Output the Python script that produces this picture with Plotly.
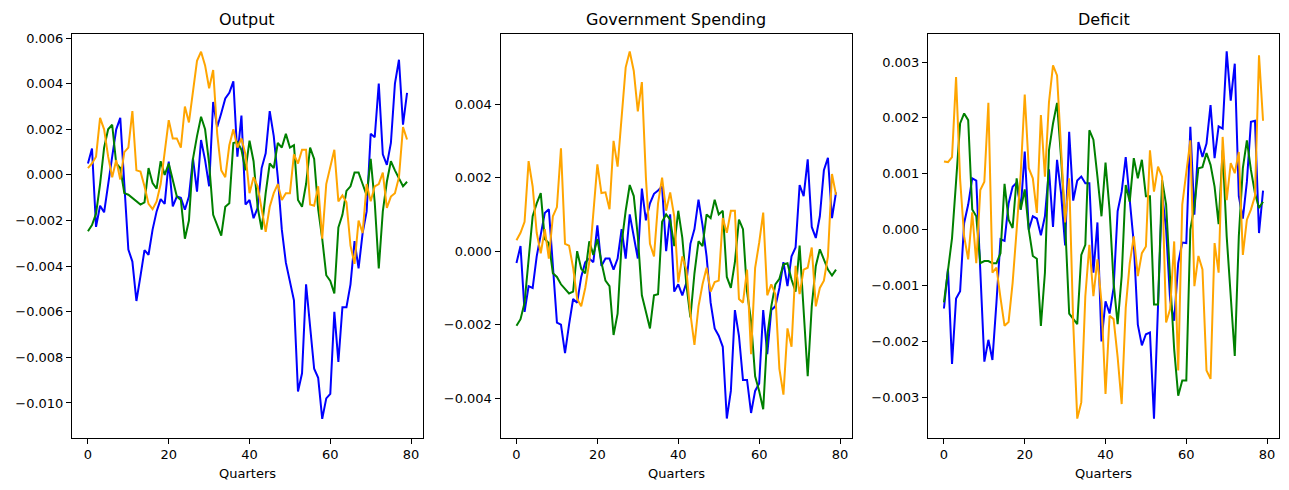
import plotly.graph_objects as go

# Impulse responses, 80 quarters
quarters = list(range(80))

output_blue = [
    0.0005, 0.00116, -0.00228, -0.00135, -0.00164, -0.0003, 0.0008, 0.002, 0.0025, -0.0004,
    -0.00327, -0.0038, -0.00553, -0.00444, -0.0033, -0.0035, -0.0024, -0.0016, -0.00106, -0.00127,
    0.00058, -0.00138, -0.00095, -0.001, -0.00153, -0.00095, 0.00073, -0.00073, 0.00153, 0.00065,
    -0.0005, 0.0032, 0.0021, 0.0027, 0.00335, 0.0036, 0.0041, 0.0008, 0.0026, -0.0013,
    -0.0011, -0.0019, -0.00145, 0.0003, 0.00095, 0.0028, 0.0017, -0.0001, -0.0024, -0.00385,
    -0.00465, -0.0055, -0.0095, -0.0087, -0.0048, -0.0065, -0.0085, -0.0089, -0.0107, -0.0098,
    -0.0096, -0.006, -0.0082, -0.0058, -0.0058, -0.0048, -0.0029, -0.0041, -0.00255, -0.0016,
    0.0018, 0.00165, 0.004, 0.0009, 0.00044, 0.0014, 0.004, 0.00505, 0.0022, 0.0036,
]
output_green = [
    -0.00247, -0.0022, -0.0017, -0.0004, 0.0012, 0.002, 0.0022, 0.0005, 0.0003, -0.0008,
    -0.00087, -0.001, -0.00116, -0.0013, -0.0012, 0.0003, -0.00036, -0.0006, 0.0006, 0.0,
    0.0005, -0.0003, -0.00095, -0.0011, -0.0028, -0.002, 0.0007, 0.0017, 0.00255, 0.002,
    0.0005, -0.00175, -0.0022, -0.00266, -0.0014, -0.00124, 0.0014, 0.00145, 0.0011, 0.0002,
    0.0015, 0.0006, -0.0014, -0.0024, -0.0008, 0.0005, 0.0003, 0.0014, 0.0012, 0.0018,
    0.0012, 0.0013, -0.0011, -0.0014, -0.0004, 0.0012, 0.0007, -0.0015, -0.0028, -0.0044,
    -0.00465, -0.0052, -0.0023, -0.00175, -0.0007, -0.0005, 0.0001, 0.0001, -0.0004, -0.0009,
    0.0007, -0.0012, -0.0041, -0.0016, -0.0003, 0.0006, 0.0002, -0.00015, -0.0005, -0.0003,
]
output_orange = [
    0.0003, 0.0005, 0.0008, 0.0025, 0.002, 0.0008, -0.0001, 0.00065, -0.0002, 0.001,
    0.0012, 0.0028, 0.0002, 0.00015, -0.0005, -0.00127, -0.0015, -0.00116, -0.0004, 0.0009,
    0.0024, 0.0016, 0.0016, 0.0012, 0.003, 0.0023, 0.0037, 0.005, 0.0054, 0.0048,
    0.0038, 0.0046, 0.0018, 0.0002, -0.0001, 0.0013, 0.002, 0.0012, 0.0016, 0.0009,
    -0.0008, -0.0001, -0.0005, -0.0016, -0.0025, -0.0014, -0.0008, -0.0004, -0.0011, -0.0008,
    -0.0008, 0.0009, 0.0005, 0.0011, 0.0011, -0.0013, -0.00135, -0.0005, -0.0028, -0.0004,
    0.0003, 0.0011, -0.00116, -0.0009, -0.0012, -0.0031, -0.0039, -0.002, -0.00255, -0.0004,
    -0.00116, -0.0005, -0.0004, 0.0001, -0.00145, -0.00095, -0.0008, -0.0001, 0.0021, 0.00155,
]

gov_blue = [
    -0.00032, 0.00014, -0.00165, -0.00095, -0.001, -0.00014, 0.00045, 0.00104, 0.00114, -0.0003,
    -0.00194, -0.002, -0.00277, -0.002, -0.0013, -0.0014, -0.0007, -0.0003, -0.0002, -0.0003,
    0.0007, -0.0004, -0.0002, -0.0002, -0.0005, -0.0002, 0.0006, -0.0002, 0.001, 0.0004,
    -0.0002, 0.0017, 0.00084, 0.0013, 0.00156, 0.00165, 0.00176, 0.0, 0.001, -0.0011,
    -0.0009, -0.0012, -0.00086, 0.0002, 0.0006, 0.0014, 0.0007, -0.00014, -0.0014, -0.0021,
    -0.0023, -0.0026, -0.00455, -0.0038, -0.0016, -0.0023, -0.0035, -0.0035, -0.0044, -0.0038,
    -0.0036, -0.0016, -0.0028, -0.0016, -0.0015, -0.001, -0.0003, -0.00095, -0.00014, 0.0001,
    0.0018, 0.0015, 0.0025, 0.00066, 0.00036, 0.00095, 0.0022, 0.00254, 0.0009, 0.0016,
]
gov_green = [
    -0.00203, -0.00185, -0.0014, -0.0002, 0.00095, 0.0013, 0.00158, 0.00033, 0.00022, -0.0006,
    -0.0007, -0.0009, -0.00104, -0.00115, -0.0011, 0.0, -0.00048, -0.0006, 0.00027, -0.0001,
    0.00033, -0.0003, -0.0008, -0.00095, -0.00228, -0.0017, 0.00022, 0.0011, 0.0018, 0.0015,
    0.0004, -0.0012, -0.00165, -0.0021, -0.0012, -0.00117, 0.0008, 0.001, 0.00086, 0.00014,
    0.0011, 0.00036, -0.0009, -0.0018, -0.0006, 0.00027, 0.00014, 0.001, 0.0009, 0.0014,
    0.001, 0.0011, -0.0007, -0.001, -0.0003, 0.00086, 0.0006, -0.0011, -0.0019, -0.0034,
    -0.0038, -0.0043, -0.0023, -0.0015, -0.0009, -0.00075, -0.00036, -0.00033, -0.00077, -0.0011,
    0.00015, -0.0017, -0.0034, -0.0015, -0.0004, 0.00005, -0.00023, -0.0005, -0.00066, -0.0005,
]
gov_orange = [
    0.0003, 0.0005, 0.0008, 0.00245, 0.00176, 0.0005, -0.00006, 0.0006, -0.0002, 0.00095,
    0.0012, 0.0028, 0.0002, 0.00015, -0.00045, -0.0013, -0.0015, -0.001, -0.0003, 0.001,
    0.00236, 0.00158, 0.0016, 0.00114, 0.003, 0.0023, 0.0037, 0.005, 0.00543, 0.0049,
    0.0038, 0.0046, 0.002, 0.0002, -0.00014, 0.0013, 0.002, 0.0011, 0.0016, 0.00095,
    -0.00085, -0.00014, -0.0005, -0.0017, -0.00255, -0.0015, -0.0009, -0.00045, -0.0011, -0.00084,
    -0.0008, 0.0009, 0.0005, 0.0011, 0.0011, -0.0013, -0.0014, -0.0005, -0.0028, -0.00045,
    0.00023, 0.00105, -0.0012, -0.0009, -0.00117, -0.0032, -0.0039, -0.0021, -0.0026, -0.0004,
    -0.00117, -0.0005, -0.00045, 0.0001, -0.0015, -0.001, -0.0008, -0.00014, 0.0021, 0.00153,
]

deficit_blue = [
    -0.00141, -0.0007, -0.0024, -0.00123, -0.0011, 0.00012, 0.00045, 0.00092, 0.00088, -0.0008,
    -0.00236, -0.00197, -0.00233, -0.0013, -0.00017, -0.0002, 0.00047, 0.00077, 0.00084, 0.00036,
    0.0014, 0.0, 0.00024, 0.0002, -0.0001, 0.00024, 0.00108, 0.00005, 0.00125, 0.00065,
    -0.00028, 0.00175, 0.00052, 0.00088, 0.00095, 0.00083, 0.00083, -0.00077, 0.00013, -0.002,
    -0.00128, -0.0015, -0.00104, 0.00033, 0.00068, 0.0013, 0.0005, -0.00024, -0.0017, -0.00207,
    -0.00187, -0.00184, -0.00338, -0.0013, 0.00066, 0.0, -0.00126, -0.00163, -0.0006, -0.00023,
    -0.00024, 0.00184, 0.00027, 0.00157, 0.0013, 0.00154, 0.00223, 0.00128, 0.00185, 0.00181,
    0.00319, 0.00231, 0.00297, 0.0006, 0.0002, 0.00086, 0.00193, 0.00195, -0.00006, 0.0007,
]
deficit_green = [
    -0.0013, -0.00077, -0.00015, 0.00086, 0.0019, 0.00208, 0.00196, 0.00036, 0.00024, -0.0006,
    -0.00056, -0.00056, -0.0006, -0.0006, -0.00042, 0.00082, 0.00018, 0.00003, 0.00092, 0.00036,
    0.00072, 0.0, -0.00047, -0.00052, -0.00172, -0.00077, 0.00142, 0.0019, 0.00227, 0.00128,
    0.00012, -0.0015, -0.00159, -0.00169, -0.00045, -0.00027, 0.00178, 0.00161, 0.00095, 0.00024,
    0.0012, 0.00036, -0.00095, -0.00169, -0.00083, 0.0008, 0.0005, 0.00128, 0.00092, 0.00125,
    0.0006, 0.0006, -0.00134, -0.00134, 0.00089, 0.00045, -0.00089, -0.00214, -0.00297, -0.0027,
    -0.0027, 0.0, 0.00042, 0.0011, 0.00112, 0.00137, 0.00116, 0.00077, 0.0001, 0.00142,
    -0.00012, -0.00119, -0.00226, -0.00012, 0.0011, 0.0016, 0.00107, 0.00065, 0.00039, 0.0005,
]
deficit_orange = [
    0.00122, 0.00121, 0.0013, 0.00273, 0.0009, -0.00012, -0.00053, 0.00031, -0.0006, 0.00071,
    0.00086, 0.00227, -0.00077, -0.00068, -0.00122, -0.00172, -0.00165, -0.00095, 0.0, 0.001,
    0.00242, 0.0011, 0.00092, 0.0003, 0.00205, 0.00095, 0.00228, 0.00294, 0.00276, 0.00154,
    0.00013, 0.00092, -0.00166, -0.00338, -0.00309, -0.00119, -0.00027, -0.00119, -0.00053, -0.0013,
    -0.00294, -0.00154, -0.0016, -0.00228, -0.00312, -0.0014, -0.0006, -0.00012, -0.00083, -0.00042,
    -0.0003, 0.00142, 0.00068, 0.00113, 0.00095, -0.00166, -0.00142, -0.00021, -0.00252, 0.00045,
    0.00107, 0.0016, -0.00101, -0.00047, -0.00071, -0.00252, -0.00267, -0.00024, -0.00077, 0.00166,
    0.00053, 0.00119, 0.00101, 0.00139, -0.00045, 0.00018, 0.00036, 0.0006, 0.00312, 0.00195,
]

titles = ["Output", "Government Spending", "Deficit"]
panels = [
    (output_blue, output_green, output_orange),
    (gov_blue, gov_green, gov_orange),
    (deficit_blue, deficit_green, deficit_orange),
]
colors = ["blue", "green", "orange"]
y_ranges = [[-0.01152, 0.0062], [-0.00507, 0.00592], [-0.00372, 0.00351]]
y_ticks = [
    [-0.010, -0.008, -0.006, -0.004, -0.002, 0.0, 0.002, 0.004, 0.006],
    [-0.004, -0.002, 0.0, 0.002, 0.004],
    [-0.003, -0.002, -0.001, 0.0, 0.001, 0.002, 0.003],
]

W, H = 1289, 490
x_px = [(72, 423), (500.5, 852), (928, 1279)]
top_px, bottom_px = 30.7, 437.3

fig = go.Figure()
annotations = []
for i, (series, title) in enumerate(zip(panels, titles)):
    n = "" if i == 0 else str(i + 1)
    for values, color in zip(series, colors):
        fig.add_trace(go.Scatter(
            x=quarters, y=values, mode="lines",
            line=dict(color=color, width=2),
            xaxis="x" + n, yaxis="y" + n, showlegend=False,
        ))
    x0, x1 = x_px[i][0] / W, x_px[i][1] / W
    axis_common = dict(
        showline=True, linecolor="black", linewidth=1, mirror=True,
        ticks="outside", ticklen=5, tickcolor="black", tickwidth=1,
        showgrid=False, zeroline=False,
        tickfont=dict(family="DejaVu Sans", size=13, color="black"),
    )
    fig.update_layout(**{
        "xaxis" + n: dict(
            domain=[x0, x1], anchor="y" + n, range=[-3.95, 82.95],
            tickvals=[0, 20, 40, 60, 80], **axis_common,
        ),
        "yaxis" + n: dict(
            domain=[1 - bottom_px / H, 1 - top_px / H], anchor="x" + n,
            range=y_ranges[i], tickvals=y_ticks[i], tickformat=".3f",
            **axis_common,
        ),
    })
    annotations.append(dict(
        text=title, x=(x0 + x1) / 2, y=1 - 17 / H, xref="paper", yref="paper",
        xanchor="center", yanchor="middle", showarrow=False,
        font=dict(family="DejaVu Sans", size=16, color="black"),
    ))
    annotations.append(dict(
        text="Quarters", x=(x0 + x1) / 2, y=1 - 473 / H, xref="paper", yref="paper",
        xanchor="center", yanchor="middle", showarrow=False,
        font=dict(family="DejaVu Sans", size=13, color="black"),
    ))

fig.update_layout(
    width=W, height=H,
    margin=dict(l=0, r=0, t=0, b=0),
    paper_bgcolor="white", plot_bgcolor="white",
    annotations=annotations,
    font=dict(family="DejaVu Sans", color="black"),
)

# drop the browser's default body margin so the figure sits at the page corner
fig.write_html(
    "out.html",
    config={"displayModeBar": False},
    post_script="document.body.style.margin = '0';",
)
